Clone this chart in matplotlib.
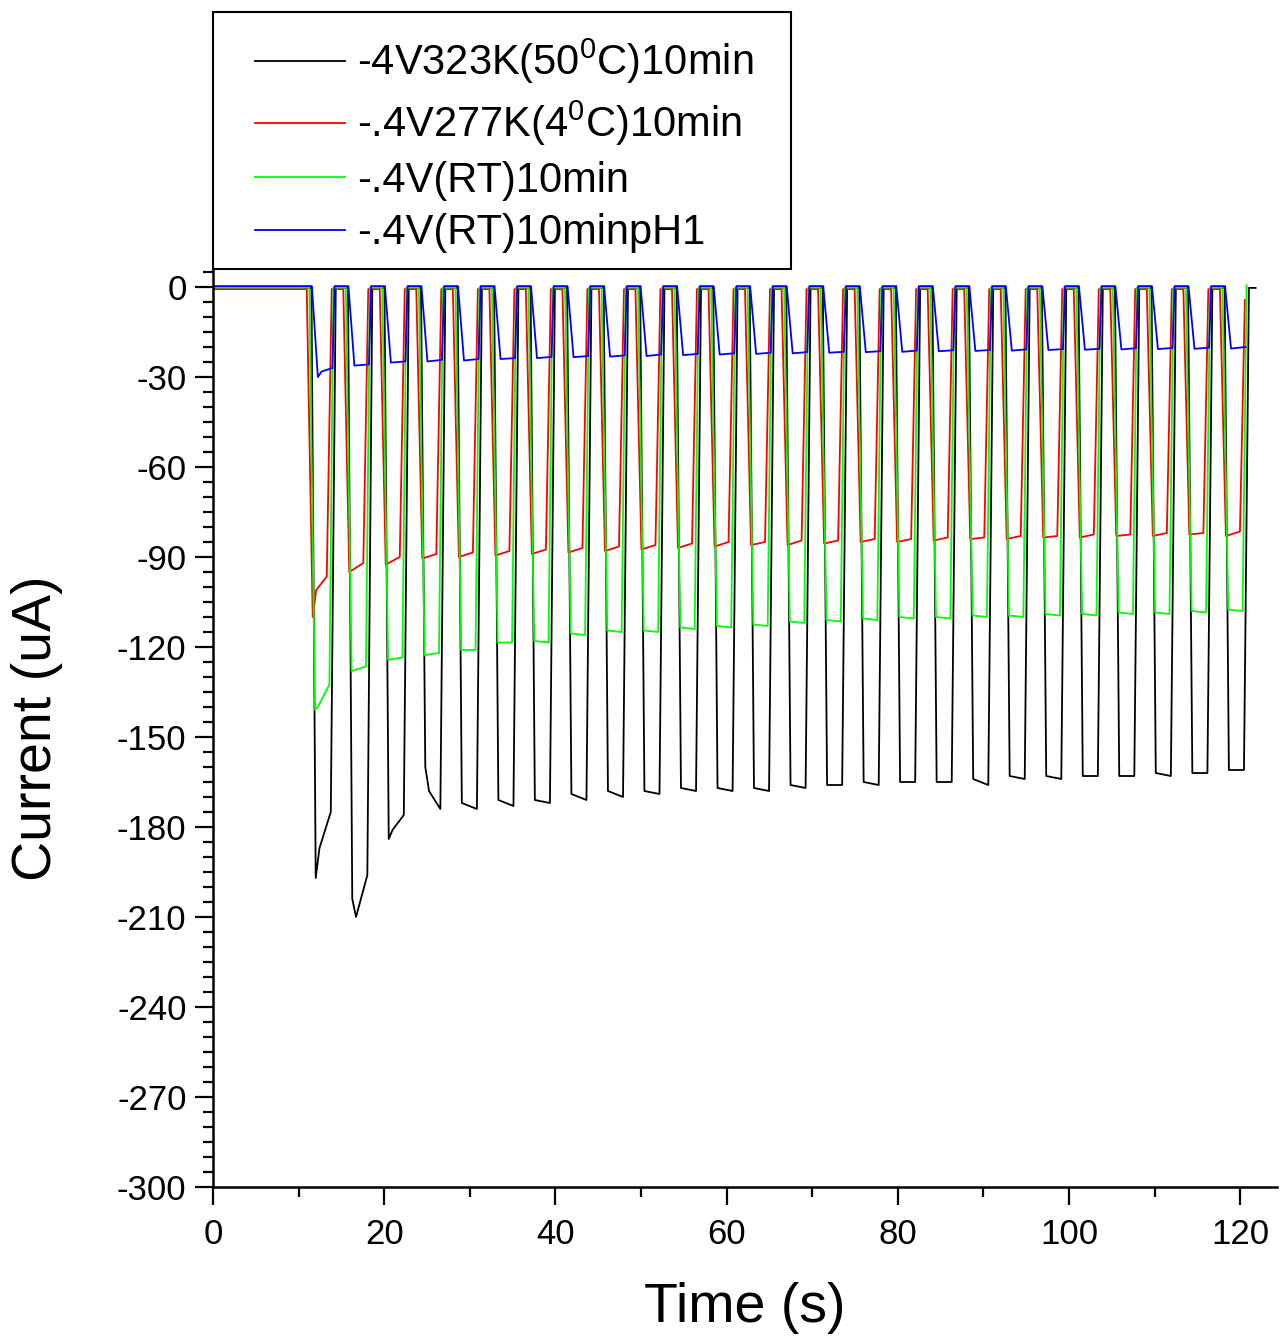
import numpy as np
import matplotlib
matplotlib.use('Agg')
import matplotlib.pyplot as plt
from matplotlib.patches import Rectangle
from matplotlib.ticker import MultipleLocator

plt.rcParams['font.family'] = ['Liberation Sans', 'DejaVu Sans']
plt.rcParams['mathtext.fontset'] = 'custom'
plt.rcParams['mathtext.rm'] = 'Liberation Sans'
plt.rcParams['axes.unicode_minus'] = False

# light-on times (s) of the pulses, read on the black trace
pulse_start = [11.50, 15.77, 20.03, 24.30, 28.57, 32.84, 37.10, 41.37, 45.64,
               49.90, 54.17, 58.44, 62.70, 66.97, 71.24, 75.51, 79.77, 84.04,
               88.31, 92.57, 96.84, 101.11, 105.37, 109.64, 113.91, 118.18]

# current at the start / end of every pulse (uA)
black_lo = [-197, -204, -184, -160, -172, -171, -171, -169, -168, -168, -167, -167, -167,
            -166, -166, -165, -165, -165, -164, -163, -163, -163, -163, -162, -162, -161]
black_hi = [-175, -196, -176, -174, -174, -173, -172, -171, -170, -169, -168, -168, -168,
            -167, -166, -166, -165, -165, -166, -164, -164, -163, -163, -163, -162, -161]
black_knee = [-187, -210, -181, -168]

red_lo = [-110, -95, -92.5, -90.5, -90, -89.5, -89, -88.5, -88, -87.5, -87, -86.5, -86,
          -86, -85.5, -85, -85, -84.5, -84, -84, -83.5, -83.5, -83, -83, -82.5, -83]
red_hi = [-96.5, -92, -90, -89, -88.5, -88, -87.5, -87, -86.5, -86, -85.5, -85, -85,
          -84.5, -84.5, -84, -84, -83.5, -83.5, -83, -83, -82.5, -82.5, -82, -82, -81.5]
red_knee = [-101]

green_lo = [-141, -128, -124.3, -122.7, -121, -118.5, -118, -115.5, -114.5, -114.5, -113.5,
            -113, -112.5, -111.5, -111, -110.5, -110, -110, -109.5, -109.5, -109, -109,
            -108.5, -108.5, -108, -107.5]
green_hi = [-132.5, -126.5, -123.5, -122, -121, -118.5, -118.5, -116, -115, -115, -114,
            -113.5, -113, -112, -111.5, -111, -110.5, -110.5, -110, -110, -109.5, -109.5,
            -109, -109, -108.5, -108]
green_knee = [-139.5]

blue_lo = [-30, -26.2, -25.2, -24.8, -24.5, -24, -23.7, -23.4, -23.2, -23, -22.7, -22.5,
           -22.3, -22.1, -21.9, -21.7, -21.6, -21.4, -21.3, -21.2, -21, -20.9, -20.8,
           -20.7, -20.6, -20.5]
blue_hi = [-27, -25.8, -24.8, -24.3, -24, -23.7, -23.3, -23, -22.8, -22.5, -22.3, -22.1,
           -21.9, -21.7, -21.6, -21.4, -21.2, -21.1, -21, -20.8, -20.7, -20.6, -20.4,
           -20.3, -20.2, -20]
blue_knee = [-28.2]

labels = ['-4V323K(50$^\\mathregular{0}$C)10min',
          '-.4V277K(4$^\\mathregular{0}$C)10min',
          '-.4V(RT)10min',
          '-.4V(RT)10minpH1']
colors = ['black', '#ff0000', '#00ff00', '#0000ff']


def trace(offset, fall, hold, rise, lo, hi, knee, base):
    t, y = [0.0], [base]
    for k, t0 in enumerate(pulse_start):
        s = t0 + offset
        t += [s, s + fall]
        y += [base, lo[k]]
        if k < len(knee):
            t.append(s + fall + 0.25 * hold)
            y.append(knee[k])
        t += [s + fall + hold, s + fall + hold + rise]
        y += [hi[k], base]
    return t, y


tb, yb = trace(0.0, 0.5, 1.76, 0.58, black_lo, black_hi, black_knee, -0.3)
tb.append(121.8); yb.append(-0.3)
tr, yr = trace(-0.55, 0.7, 1.64, 0.58, red_lo, red_hi, red_knee, -0.7)
yr[-1] = -4.3
tg, yg = trace(-0.25, 0.67, 1.68, 0.46, green_lo, green_hi, green_knee, -0.2)
yg[-1] = 0.6
tu, yu = trace(0.05, 0.7, 1.7, 0.25, blue_lo, blue_hi, blue_knee, 0.3)
tu, yu = tu[:-1], yu[:-1]

fig = plt.figure(figsize=(12.8, 13.36), dpi=100)
ax = fig.add_axes([213 / 1280, 149 / 1336, 1064 / 1280, 917 / 1336])

lines = []
for (t, y), c, lab in zip([(tb, yb), (tr, yr), (tg, yg), (tu, yu)], colors, labels):
    ln, = ax.plot(t, y, color=c, lw=1.3, label=lab)
    lines.append(ln)

ax.set_xlim(0, 124.3)
ax.set_ylim(-300, 5.67)
ax.spines['top'].set_visible(False)
ax.spines['right'].set_visible(False)
ax.spines['left'].set_linewidth(1.8)
ax.spines['bottom'].set_linewidth(1.8)

ax.xaxis.set_major_locator(MultipleLocator(20))
ax.xaxis.set_minor_locator(MultipleLocator(10))
ax.yaxis.set_major_locator(MultipleLocator(30))
ax.yaxis.set_minor_locator(MultipleLocator(5))
ax.tick_params(which='major', direction='out', length=13, width=1.6, labelsize=25)
ax.tick_params(which='minor', direction='out', length=7.5, width=1.6)
ax.tick_params(axis='x', which='major', pad=9)
ax.tick_params(axis='y', which='major', pad=6)

ax.set_xlabel('Time (s)', fontsize=40, va='center')
ax.xaxis.set_label_coords(0.5, -0.132)
ax.set_ylabel('Current (uA)', fontsize=40, va='center')
ax.yaxis.set_label_coords(-0.165, 0.5)

# legend box (Origin style)
fig.patches.append(Rectangle((213 / 1280, 1 - 269 / 1336), 578 / 1280, 257 / 1336,
                             transform=fig.transFigure, fill=False, edgecolor='black',
                             lw=1.5, zorder=5))
ax.legend(handles=lines, loc='upper left', bbox_to_anchor=(255 / 1280, 1 - 37 / 1336),
          bbox_transform=fig.transFigure, frameon=False, fontsize=30,
          handlelength=2.15, handletextpad=0.3, labelspacing=0.3, borderpad=0,
          borderaxespad=0)

fig.savefig('out.png', dpi=100)
